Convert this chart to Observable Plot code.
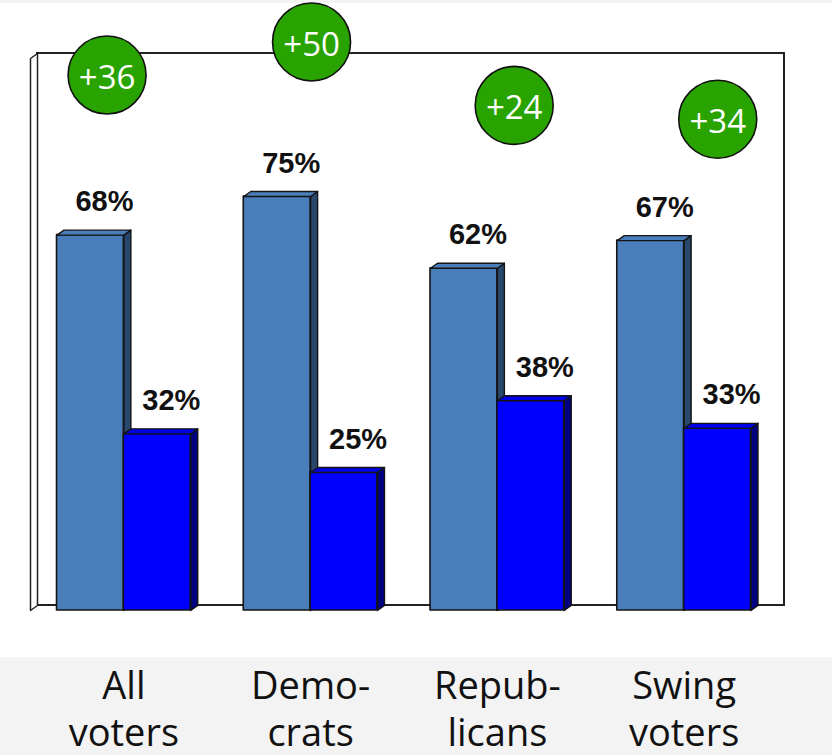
<!DOCTYPE html>
<html>
<head>
<meta charset="utf-8">
<script src="https://cdn.jsdelivr.net/npm/d3@7"></script>
<script src="https://cdn.jsdelivr.net/npm/@observablehq/plot@0.6"></script>
<style>
  html, body { margin: 0; padding: 0; background: #fff; }
  #chart { width: 832px; height: 755px; }
</style>
</head>
<body>
<div id="chart"></div>
<script>
// ---- data -------------------------------------------------------------
const groups  = ["All\nvoters", "Demo-\ncrats", "Repub-\nlicans", "Swing\nvoters"];
const favor   = [68, 75, 62, 67];
const against = [32, 25, 38, 33];

// where each lead badge floats: shift from the group centre (group units)
// and lift above the taller bar (percentage points)
const badgeShift = [-0.09, 0.005, 0.09, 0.18];
const badgeLift  = [29, 28, 29.5, 22];

// ---- scales & 3-D depth ----------------------------------------------
const n = groups.length;
const X_DOMAIN = [-0.5, n - 0.5];
const X_RANGE  = [30, 777];
const Y_DOMAIN = [0, 100];
const Y_RANGE  = [610, 58];
const BAR_W = 0.358;            // width of one bar in group units
const DEPTH_PX = [7, 5];        // extrusion: right, up (pixels)
const ddx = DEPTH_PX[0] * (X_DOMAIN[1] - X_DOMAIN[0]) / (X_RANGE[1] - X_RANGE[0]);
const ddy = DEPTH_PX[1] * (Y_DOMAIN[1] - Y_DOMAIN[0]) / (Y_RANGE[0] - Y_RANGE[1]);

const series = [
  {key: "favor",   values: favor,   offset: -BAR_W, front: "#4a7ebb", side: "#28476d", top: "#4a7ebb"},
  {key: "against", values: against, offset: 0,      front: "#0000ff", side: "#000080", top: "#0000e6"}
];

const bars = series.flatMap(s => s.values.map((v, i) => ({
  series: s.key, i, value: v,
  x1: i + s.offset, x2: i + s.offset + BAR_W
})));

// polygon vertices for the side and top faces of each bar
function sideFace(b) {
  return [[b.x2, 0], [b.x2, b.value], [b.x2 + ddx, b.value + ddy], [b.x2 + ddx, ddy]]
    .map(([x, y]) => ({id: b.series + b.i, x, y}));
}
function topFace(b) {
  return [[b.x1, b.value], [b.x1 + ddx, b.value + ddy], [b.x2 + ddx, b.value + ddy], [b.x2, b.value]]
    .map(([x, y]) => ({id: b.series + b.i, x, y}));
}

const X0 = X_DOMAIN[0], X1 = X_DOMAIN[1];
const leftWall = [[X0, 0], [X0, 100], [X0 + ddx, 100 + ddy], [X0 + ddx, ddy]]
  .map(([x, y]) => ({x, y}));

const badges = groups.map((g, i) => ({
  x: i + badgeShift[i],
  y: favor[i] + badgeLift[i],
  lead: favor[i] - against[i]
}));

const EDGE = "#141414";
const barMarks = series.flatMap(s => {
  const mine = bars.filter(b => b.series === s.key);
  return [
    Plot.rect(mine, {x1: "x1", x2: "x2", y1: 0, y2: "value",
      fill: s.front, stroke: EDGE, strokeWidth: 1.6, strokeLinejoin: "round"}),
    Plot.line(mine.flatMap(sideFace), {x: "x", y: "y", z: "id", curve: "linear-closed",
      fill: s.side, stroke: EDGE, strokeWidth: 1.4, strokeLinejoin: "round"}),
    Plot.line(mine.flatMap(topFace), {x: "x", y: "y", z: "id", curve: "linear-closed",
      fill: s.top, stroke: EDGE, strokeWidth: 1.4, strokeLinejoin: "round"})
  ];
});

const chart = Plot.plot({
  width: 832,
  height: 755,
  margin: 0,
  style: {
    background: "linear-gradient(#f3f3f3 0 3px, #ffffff 3px 657px, #f3f3f3 657px)",
    overflow: "visible"
  },
  x: {type: "linear", domain: X_DOMAIN, range: X_RANGE, axis: null},
  y: {type: "linear", domain: Y_DOMAIN, range: Y_RANGE, axis: null},
  marks: [
    // back wall and thin left wall of the 3-D box
    Plot.rect([0], {x1: X0 + ddx, x2: X1 + ddx, y1: ddy, y2: 100 + ddy,
      fill: "white", stroke: "#222", strokeWidth: 2}),
    Plot.line(leftWall, {x: "x", y: "y", curve: "linear-closed",
      fill: "white", stroke: "#222", strokeWidth: 1.5}),

    ...barMarks,

    // value labels
    Plot.text(bars, {
      x: d => (d.x1 + d.x2) / 2, y: "value", text: d => d.value + "%",
      dx: 14, dy: -24, lineAnchor: "bottom",
      fontSize: 29, fontWeight: "bold",
      fontFamily: "'Liberation Sans', Arial, sans-serif", fill: "#111"
    }),

    // lead badges
    Plot.dot(badges, {x: "x", y: "y", r: 39, fill: "#29a300", stroke: "#111", strokeWidth: 1.6}),
    Plot.text(badges, {
      x: "x", y: "y", text: d => "+" + d.lead, dy: 3,
      fontSize: 33, fontFamily: "'Open Sans', sans-serif", fill: "white"
    }),

    // category labels
    Plot.text(groups.map((g, i) => ({x: i, label: g})), {
      x: "x", y: 0, text: "label", lineAnchor: "bottom", dy: 135,
      fontSize: 38, lineHeight: 1.22,
      fontFamily: "'Open Sans', sans-serif", fill: "#111"
    })
  ]
});

document.getElementById("chart").append(chart);
</script>
</body>
</html>
